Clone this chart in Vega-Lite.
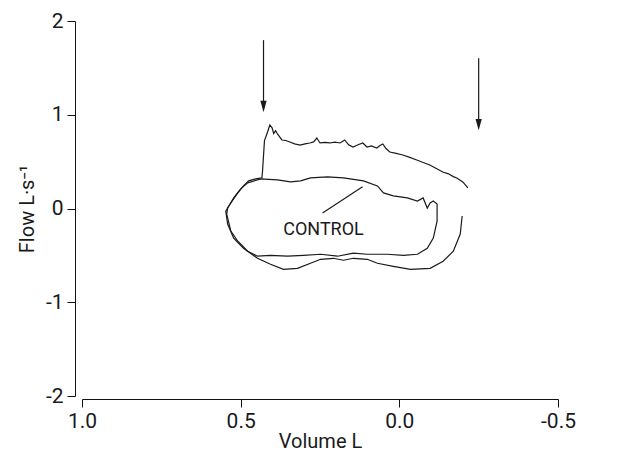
{
  "$schema": "https://vega.github.io/schema/vega-lite/v6.json",
  "width": 476,
  "height": 375,
  "autosize": {"type": "none"},
  "padding": {"left": 82, "top": 21, "right": 76, "bottom": 65},
  "background": "white",
  "config": {
    "view": {"stroke": null},
    "font": "Roboto",
    "axis": {
      "grid": false,
      "domainColor": "#111",
      "tickColor": "#111",
      "labelColor": "#1a1a1a",
      "titleColor": "#1a1a1a",
      "labelFontSize": 21,
      "titleFontSize": 20,
      "titleFontWeight": "normal",
      "tickSize": 8,
      "labelFlush": false,
      "labelFont": "Roboto",
      "titleFont": "Roboto"
    }
  },
  "datasets": {
    "curves": [
      {"series": "B", "i": 1, "vol": -0.198, "flow": -0.08},
      {"series": "B", "i": 2, "vol": -0.192, "flow": -0.273},
      {"series": "B", "i": 3, "vol": -0.17, "flow": -0.456},
      {"series": "B", "i": 4, "vol": -0.138, "flow": -0.563},
      {"series": "B", "i": 5, "vol": -0.097, "flow": -0.638},
      {"series": "B", "i": 6, "vol": -0.035, "flow": -0.649},
      {"series": "B", "i": 7, "vol": 0.019, "flow": -0.617},
      {"series": "B", "i": 8, "vol": 0.069, "flow": -0.584},
      {"series": "B", "i": 9, "vol": 0.101, "flow": -0.542},
      {"series": "B", "i": 10, "vol": 0.145, "flow": -0.531},
      {"series": "B", "i": 11, "vol": 0.176, "flow": -0.552},
      {"series": "B", "i": 12, "vol": 0.208, "flow": -0.531},
      {"series": "B", "i": 13, "vol": 0.248, "flow": -0.542},
      {"series": "B", "i": 14, "vol": 0.28, "flow": -0.584},
      {"series": "B", "i": 15, "vol": 0.321, "flow": -0.638},
      {"series": "B", "i": 16, "vol": 0.365, "flow": -0.649},
      {"series": "B", "i": 17, "vol": 0.406, "flow": -0.595},
      {"series": "B", "i": 18, "vol": 0.447, "flow": -0.531},
      {"series": "B", "i": 19, "vol": 0.491, "flow": -0.424},
      {"series": "B", "i": 20, "vol": 0.522, "flow": -0.316},
      {"series": "B", "i": 21, "vol": 0.541, "flow": -0.166},
      {"series": "B", "i": 22, "vol": 0.547, "flow": -0.027},
      {"series": "B", "i": 23, "vol": 0.531, "flow": 0.059},
      {"series": "B", "i": 24, "vol": 0.509, "flow": 0.166},
      {"series": "B", "i": 25, "vol": 0.491, "flow": 0.241},
      {"series": "B", "i": 26, "vol": 0.475, "flow": 0.295},
      {"series": "B", "i": 27, "vol": 0.453, "flow": 0.316},
      {"series": "B", "i": 28, "vol": 0.433, "flow": 0.327},
      {"series": "B", "i": 29, "vol": 0.431, "flow": 0.402},
      {"series": "B", "i": 30, "vol": 0.425, "flow": 0.724},
      {"series": "B", "i": 31, "vol": 0.418, "flow": 0.79},
      {"series": "B", "i": 32, "vol": 0.413, "flow": 0.84},
      {"series": "B", "i": 33, "vol": 0.408, "flow": 0.891},
      {"series": "B", "i": 34, "vol": 0.401, "flow": 0.86},
      {"series": "B", "i": 35, "vol": 0.396, "flow": 0.8},
      {"series": "B", "i": 36, "vol": 0.39, "flow": 0.83},
      {"series": "B", "i": 37, "vol": 0.383, "flow": 0.79},
      {"series": "B", "i": 38, "vol": 0.37, "flow": 0.731},
      {"series": "B", "i": 39, "vol": 0.358, "flow": 0.725},
      {"series": "B", "i": 40, "vol": 0.345, "flow": 0.709},
      {"series": "B", "i": 41, "vol": 0.33, "flow": 0.69},
      {"series": "B", "i": 42, "vol": 0.313, "flow": 0.677},
      {"series": "B", "i": 43, "vol": 0.297, "flow": 0.69},
      {"series": "B", "i": 44, "vol": 0.282, "flow": 0.699},
      {"series": "B", "i": 45, "vol": 0.27, "flow": 0.71},
      {"series": "B", "i": 46, "vol": 0.26, "flow": 0.752},
      {"series": "B", "i": 47, "vol": 0.25, "flow": 0.699},
      {"series": "B", "i": 48, "vol": 0.235, "flow": 0.705},
      {"series": "B", "i": 49, "vol": 0.219, "flow": 0.699},
      {"series": "B", "i": 50, "vol": 0.203, "flow": 0.708},
      {"series": "B", "i": 51, "vol": 0.187, "flow": 0.699},
      {"series": "B", "i": 52, "vol": 0.172, "flow": 0.731},
      {"series": "B", "i": 53, "vol": 0.16, "flow": 0.68},
      {"series": "B", "i": 54, "vol": 0.146, "flow": 0.656},
      {"series": "B", "i": 55, "vol": 0.13, "flow": 0.68},
      {"series": "B", "i": 56, "vol": 0.115, "flow": 0.699},
      {"series": "B", "i": 57, "vol": 0.102, "flow": 0.656},
      {"series": "B", "i": 58, "vol": 0.088, "flow": 0.668},
      {"series": "B", "i": 59, "vol": 0.071, "flow": 0.645},
      {"series": "B", "i": 60, "vol": 0.061, "flow": 0.672},
      {"series": "B", "i": 61, "vol": 0.052, "flow": 0.688},
      {"series": "B", "i": 62, "vol": 0.042, "flow": 0.64},
      {"series": "B", "i": 63, "vol": 0.03, "flow": 0.603},
      {"series": "B", "i": 64, "vol": 0.01, "flow": 0.588},
      {"series": "B", "i": 65, "vol": -0.011, "flow": 0.571},
      {"series": "B", "i": 66, "vol": -0.033, "flow": 0.545},
      {"series": "B", "i": 67, "vol": -0.055, "flow": 0.517},
      {"series": "B", "i": 68, "vol": -0.075, "flow": 0.49},
      {"series": "B", "i": 69, "vol": -0.096, "flow": 0.464},
      {"series": "B", "i": 70, "vol": -0.115, "flow": 0.43},
      {"series": "B", "i": 71, "vol": -0.137, "flow": 0.389},
      {"series": "B", "i": 72, "vol": -0.155, "flow": 0.37},
      {"series": "B", "i": 73, "vol": -0.17, "flow": 0.34},
      {"series": "B", "i": 74, "vol": -0.181, "flow": 0.325},
      {"series": "B", "i": 75, "vol": -0.2, "flow": 0.283},
      {"series": "B", "i": 76, "vol": -0.216, "flow": 0.219},
      {"series": "A", "i": 1, "vol": 0.478, "flow": 0.273},
      {"series": "A", "i": 2, "vol": 0.437, "flow": 0.316},
      {"series": "A", "i": 3, "vol": 0.384, "flow": 0.306},
      {"series": "A", "i": 4, "vol": 0.343, "flow": 0.284},
      {"series": "A", "i": 5, "vol": 0.311, "flow": 0.295},
      {"series": "A", "i": 6, "vol": 0.28, "flow": 0.327},
      {"series": "A", "i": 7, "vol": 0.226, "flow": 0.338},
      {"series": "A", "i": 8, "vol": 0.176, "flow": 0.327},
      {"series": "A", "i": 9, "vol": 0.113, "flow": 0.295},
      {"series": "A", "i": 10, "vol": 0.069, "flow": 0.241},
      {"series": "A", "i": 11, "vol": 0.05, "flow": 0.166},
      {"series": "A", "i": 12, "vol": 0.019, "flow": 0.134},
      {"series": "A", "i": 13, "vol": -0.025, "flow": 0.113},
      {"series": "A", "i": 14, "vol": -0.057, "flow": 0.08},
      {"series": "A", "i": 15, "vol": -0.075, "flow": 0.113},
      {"series": "A", "i": 16, "vol": -0.088, "flow": 0.005},
      {"series": "A", "i": 17, "vol": -0.097, "flow": 0.059},
      {"series": "A", "i": 18, "vol": -0.107, "flow": 0.08},
      {"series": "A", "i": 19, "vol": -0.119, "flow": 0.048},
      {"series": "A", "i": 20, "vol": -0.119, "flow": -0.134},
      {"series": "A", "i": 21, "vol": -0.107, "flow": -0.316},
      {"series": "A", "i": 22, "vol": -0.088, "flow": -0.424},
      {"series": "A", "i": 23, "vol": -0.057, "flow": -0.488},
      {"series": "A", "i": 24, "vol": -0.013, "flow": -0.499},
      {"series": "A", "i": 25, "vol": 0.038, "flow": -0.488},
      {"series": "A", "i": 26, "vol": 0.101, "flow": -0.488},
      {"series": "A", "i": 27, "vol": 0.145, "flow": -0.477},
      {"series": "A", "i": 28, "vol": 0.195, "flow": -0.509},
      {"series": "A", "i": 29, "vol": 0.248, "flow": -0.488},
      {"series": "A", "i": 30, "vol": 0.302, "flow": -0.499},
      {"series": "A", "i": 31, "vol": 0.352, "flow": -0.509},
      {"series": "A", "i": 32, "vol": 0.406, "flow": -0.499},
      {"series": "A", "i": 33, "vol": 0.447, "flow": -0.509},
      {"series": "A", "i": 34, "vol": 0.478, "flow": -0.456},
      {"series": "A", "i": 35, "vol": 0.509, "flow": -0.349},
      {"series": "A", "i": 36, "vol": 0.531, "flow": -0.241},
      {"series": "A", "i": 37, "vol": 0.544, "flow": -0.059},
      {"series": "A", "i": 38, "vol": 0.541, "flow": 0.005},
      {"series": "A", "i": 39, "vol": 0.522, "flow": 0.113},
      {"series": "A", "i": 40, "vol": 0.5, "flow": 0.209},
      {"series": "A", "i": 41, "vol": 0.478, "flow": 0.273}
    ],
    "segments": [
      {"name": "arrow1", "vol": 0.428, "flow": 1.796, "vol2": 0.428, "flow2": 1.07},
      {"name": "arrow2", "vol": -0.25, "flow": 1.603, "vol2": -0.25, "flow2": 0.88},
      {"name": "leader", "vol": 0.242, "flow": -0.048, "vol2": 0.116, "flow2": 0.231}
    ],
    "heads": [
      {"name": "arrow1", "vol": 0.428, "flow": 1.024},
      {"name": "arrow2", "vol": -0.25, "flow": 0.831}
    ],
    "labels": [
      {"text": "CONTROL", "vol": 0.239, "flow": -0.231}
    ]
  },
  "layer": [
    {
      "data": {"name": "curves"},
      "mark": {"type": "line", "color": "#1a1a1a", "strokeWidth": 1.2, "interpolate": "linear"},
      "encoding": {
        "x": {
          "field": "vol", "type": "quantitative",
          "scale": {"domain": [-0.5, 1], "reverse": true, "nice": false, "zero": false},
          "axis": {"values": [1, 0.5, 0, -0.5], "labelExpr": "replace(format(datum.value, '.1f'), '−', '-')", "title": "Volume  L", "offset": 3, "titlePadding": 0, "labelPadding": 3}
        },
        "y": {
          "field": "flow", "type": "quantitative",
          "scale": {"domain": [-2, 2], "nice": false},
          "axis": {"values": [-2, -1, 0, 1, 2], "labelExpr": "replace(format(datum.value, 'd'), '−', '-')", "title": "Flow  L·s⁻¹", "offset": 7, "titlePadding": 8, "labelPadding": 4}
        },
        "detail": {"field": "series"},
        "order": {"field": "i", "type": "quantitative"}
      }
    },
    {
      "data": {"name": "segments"},
      "mark": {"type": "rule", "color": "#1a1a1a", "strokeWidth": 1.2},
      "encoding": {
        "x": {"field": "vol", "type": "quantitative"},
        "y": {"field": "flow", "type": "quantitative"},
        "x2": {"field": "vol2"},
        "y2": {"field": "flow2"}
      }
    },
    {
      "data": {"name": "heads"},
      "mark": {"type": "point", "shape": "M-0.55,-1L0.55,-1L0,1Z", "filled": true, "color": "#1a1a1a", "opacity": 1, "size": 130, "yOffset": -6},
      "encoding": {
        "x": {"field": "vol", "type": "quantitative"},
        "y": {"field": "flow", "type": "quantitative"}
      }
    },
    {
      "data": {"name": "labels"},
      "mark": {"type": "text", "fontSize": 18, "font": "Roboto", "color": "#1a1a1a", "align": "center", "baseline": "middle"},
      "encoding": {
        "x": {"field": "vol", "type": "quantitative"},
        "y": {"field": "flow", "type": "quantitative"},
        "text": {"field": "text"}
      }
    }
  ]
}
